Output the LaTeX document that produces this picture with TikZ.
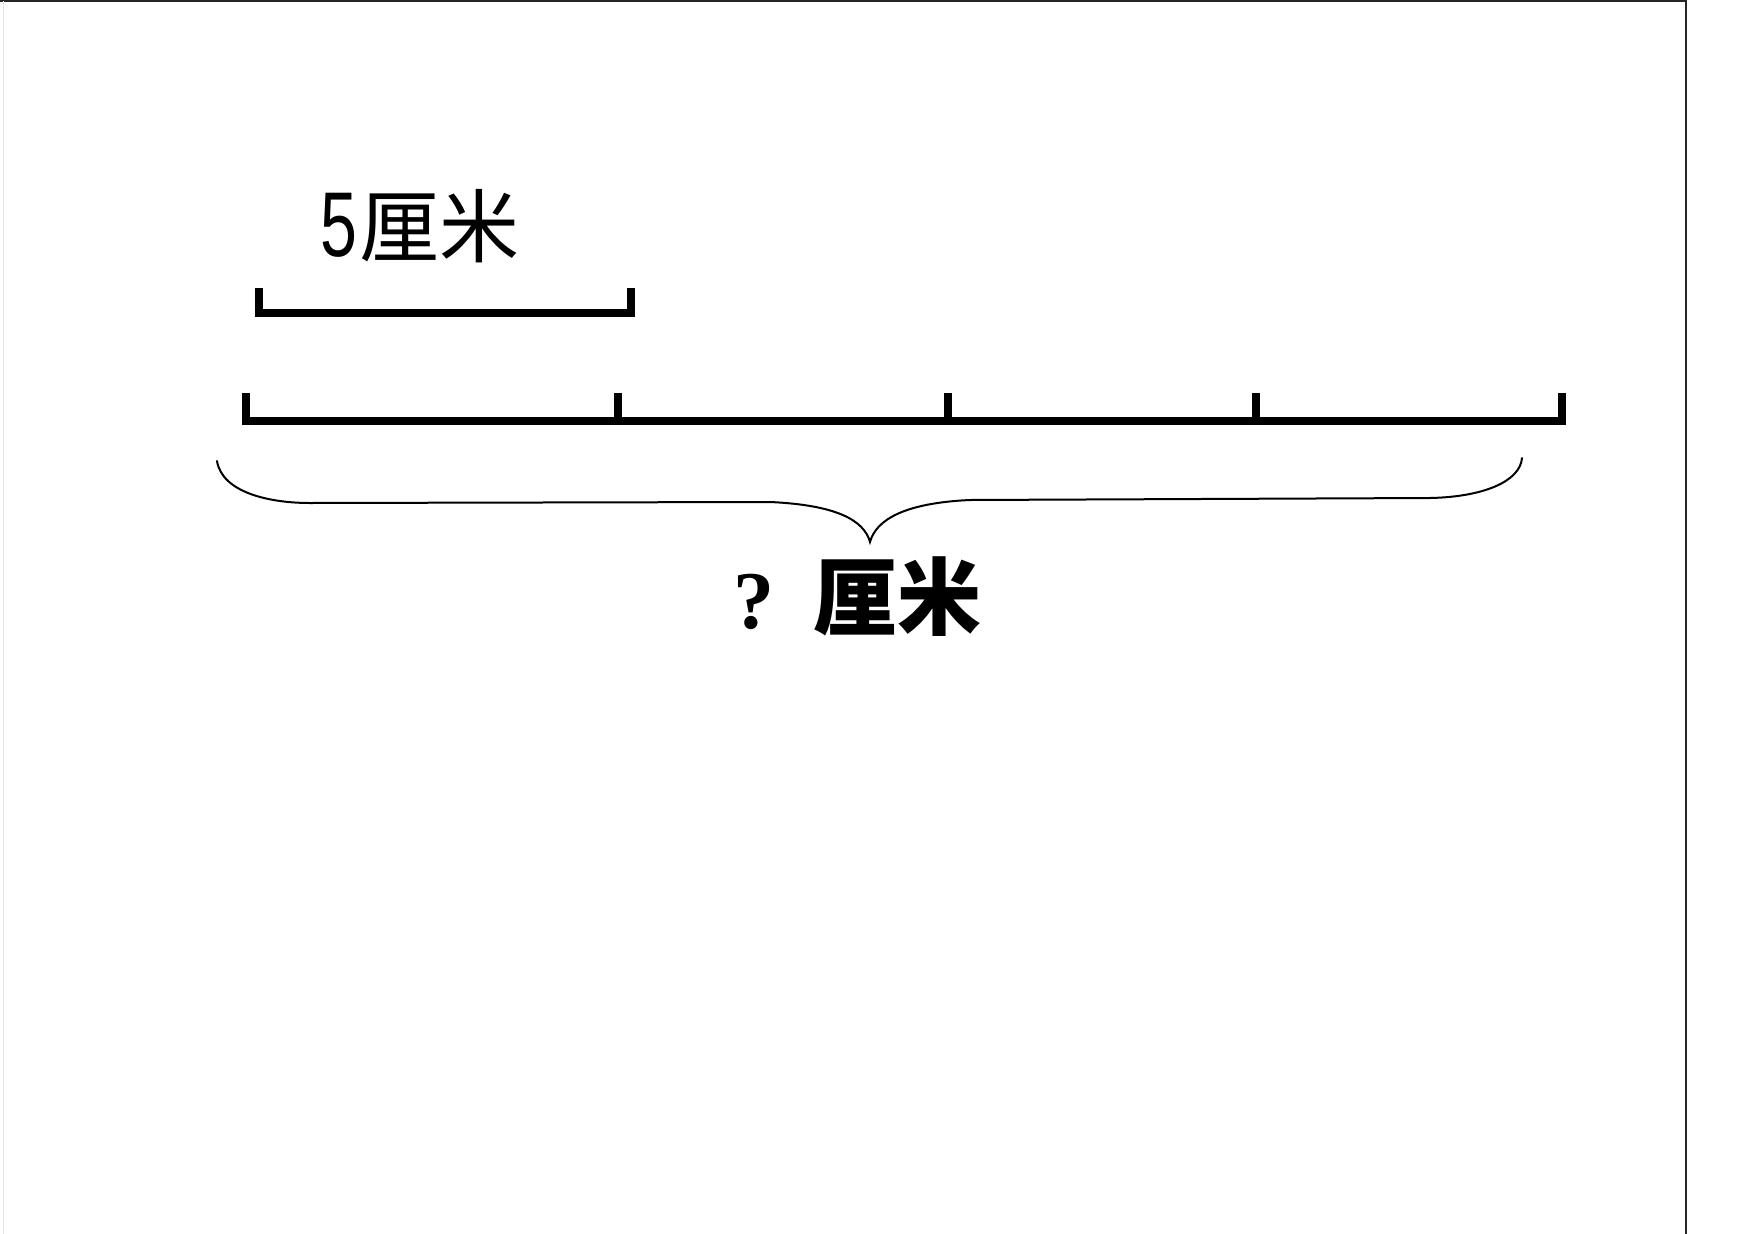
\documentclass[tikz,border=0pt]{standalone}
\usepackage{fontspec}
\setmainfont{Liberation Sans}
\newfontfamily\cjk{Noto Sans CJK SC}
\newfontfamily\qserif{Liberation Serif}
\usetikzlibrary{positioning}
\tikzstyle{bar} = [line width=7.5pt,line cap=butt,line join=miter]
\tikzstyle{brace} = [line width=2pt,line cap=round]
\tikzstyle{frame} = [line width=2pt,draw=black!85]
\tikzstyle{lbl} = [inner sep=0pt,text=black]

\begin{document}
\begin{tikzpicture}[x=1pt,y=-1pt]
  \useasboundingbox (0,0) rectangle (1748,1234);
  \fill[white] (0,0) rectangle (1748,1234);
  \draw[frame] (0,1) -- (1686,1) -- (1686,1234);
  \draw[gray!20,line width=1pt] (3,1) -- (3,1234);

  % ticks of the long line
  \foreach \x [count=\i] in {246,618,948,1256,1562}
    \coordinate (t\i) at (\x,421);
  \draw [bar] (t1) ++(0,-28) -- (t1) -- (t5) -- ++(0,-28);
  \foreach \i in {2,3,4}
    \draw [bar] (t\i) -- ++(0,-28);

  % the 5 cm piece
  \coordinate (s1) at (259,313);
  \coordinate (s2) at (631,313);
  \draw [bar] (s1) ++(0,-25) -- (s1) -- (s2) -- ++(0,-25);
  \node [lbl,anchor=base west] (five) at (320,256)
    {\fontsize{92}{92}\selectfont\scalebox{0.72}[1]{5}\hspace{2pt}{\cjk\fontsize{80}{80}\selectfont 厘米}};

  % brace under the line
  \coordinate (b1) at (217,461);
  \coordinate (b2) at (1522,458);
  \coordinate (tip) at (870,542);
  \draw [brace] (b1) .. controls (222,492) and (268,503) .. (310,503)
    -- (770,502) .. controls (836,505) and (864,520) .. (tip)
    .. controls (876,520) and (904,503) .. (970,500)
    -- (1430,498) .. controls (1482,497) and (1520,482) .. (b2);
  \node [lbl,anchor=base west] (total) at (733,628)
    {{\qserif\bfseries\fontsize{82}{82}\selectfont ?}\hspace{39pt}{\cjk\bfseries\fontsize{84}{84}\selectfont 厘米}};
\end{tikzpicture}
\end{document}
